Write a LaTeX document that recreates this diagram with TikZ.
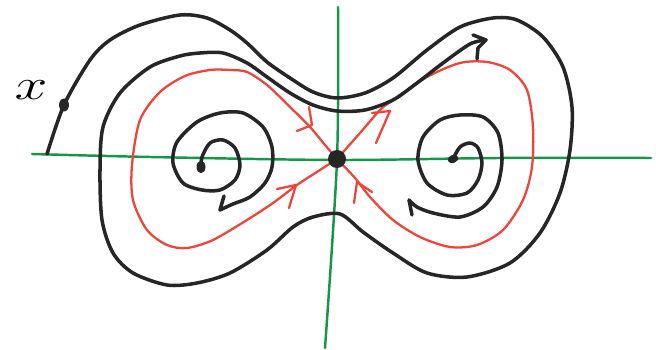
\documentclass[tikz,border=0pt]{standalone}
\usepackage{amsmath,amssymb}
\usepackage{xcolor}
\usepackage{tikz}
\usetikzlibrary{positioning,arrows.meta,shapes.geometric}
\definecolor{penblack}{RGB}{38,38,38}
\definecolor{penred}{RGB}{238,68,58}
\definecolor{pengreen}{RGB}{22,150,70}

\begin{document}
\begin{tikzpicture}[
				x=0.02cm, y=-0.02cm,
				axisline/.style={draw=pengreen, line width=1.4pt, line cap=round},
				orbit/.style={draw=penblack, line width=2pt, line cap=round, line join=round},
				sepx/.style={draw=penred, line width=1.3pt, line cap=round, line join=round},
				dot/.style={fill=penblack, draw=none, ellipse, inner sep=0pt},
			]
			\useasboundingbox (0,0) rectangle (656,350);
			\draw[axisline] plot[smooth] coordinates {(32,154) (150,157) (337,160) (500,158) (651,158)};
			\draw[axisline] plot[smooth] coordinates {(338,7) (337,160) (325,348)};
			\draw[sepx] plot[smooth] coordinates {(337,159) (320,170) (297,185) (273,203) (247,220) (213,240)
				(187,248) (167,245) (147,230) (133,200) (132,165) (140,120) (160,92) (185,76) (210,70)
				(230,70) (247,72) (267,85) (290,107) (310,127) (325,145) (337,159)};
			\draw[sepx] plot[smooth] coordinates {(337,159) (360,133) (380,110) (393,100) (427,77) (460,63)
				(487,62) (510,70) (527,90) (533,127) (532,167) (523,200) (503,230) (477,245) (450,247)
				(420,237) (393,220) (370,197) (355,178) (337,159)};
			\draw[sepx] (309,107) -- (312,125) -- (297,131);
			\draw[sepx] (372,113) -- (390,111) -- (376,143);
			\draw[sepx] (277,189) -- (296,185) -- (289,208);
			\draw[sepx] (372,192) -- (357,182) -- (354,203);
			\draw[orbit] plot[smooth] coordinates {(201,167) (202,157) (210,143) (223,140) (235,148) (240,165)
				(235,180) (220,190) (202,190) (183,183) (173,163) (177,142) (197,122) (220,113) (243,113)
				(263,127) (272,147) (272,167) (265,183) (250,197) (233,204) (220,210)};
			\draw[orbit] (224,196) -- (220,210);
			\draw[orbit] plot[smooth] coordinates {(453,159) (460,147) (470,143) (478,148) (482,163) (478,180)
				(467,193) (447,195) (427,183) (418,160) (423,137) (440,120) (460,115) (483,117) (498,133)
				(502,160) (497,187) (483,207) (460,217) (433,213) (417,207) (409,200)};
			\draw[orbit] (409,200) -- (412,215);
			\draw[orbit] plot[smooth] coordinates {(47,154) (64,105) (90,60) (110,40) (140,25) (180,15)
				(207,18) (230,30) (247,43) (267,62) (290,78) (313,92) (337,98) (365,93) (393,78) (427,50)
				(460,27) (493,18) (517,20) (543,37) (563,67) (572,107) (570,150) (560,193) (540,233)
				(510,263) (467,277) (427,273) (393,253) (363,232) (340,214) (313,217) (293,227) (267,250)
				(230,273) (197,283) (167,285) (133,273) (113,253) (102,220) (100,170) (103,127) (120,93)
				(150,67) (180,56) (200,53) (223,53) (247,63) (267,77) (290,93) (313,105) (337,111)
				(365,110) (393,100) (417,83) (443,63) (470,44) (486,40)};
			\draw[orbit] (473,35) -- (486,40) -- (478,48) -- (477,59);
			\node[dot, minimum width=0.36cm, minimum height=0.36cm] (saddle) at (337,159) {};
			\node[dot, minimum width=0.18cm, minimum height=0.25cm] (focusL) at (201,167) {};
			\node[dot, minimum width=0.22cm, minimum height=0.16cm, rotate=20] (focusR) at (453,159) {};
			\node[dot, minimum width=0.2cm, minimum height=0.26cm] (xpt) at (64,105) {};
			\node[font=\fontsize{26}{26}\selectfont, xscale=1.35] (xlbl) at (31,90) {$x$};
		\end{tikzpicture}
\end{document}
